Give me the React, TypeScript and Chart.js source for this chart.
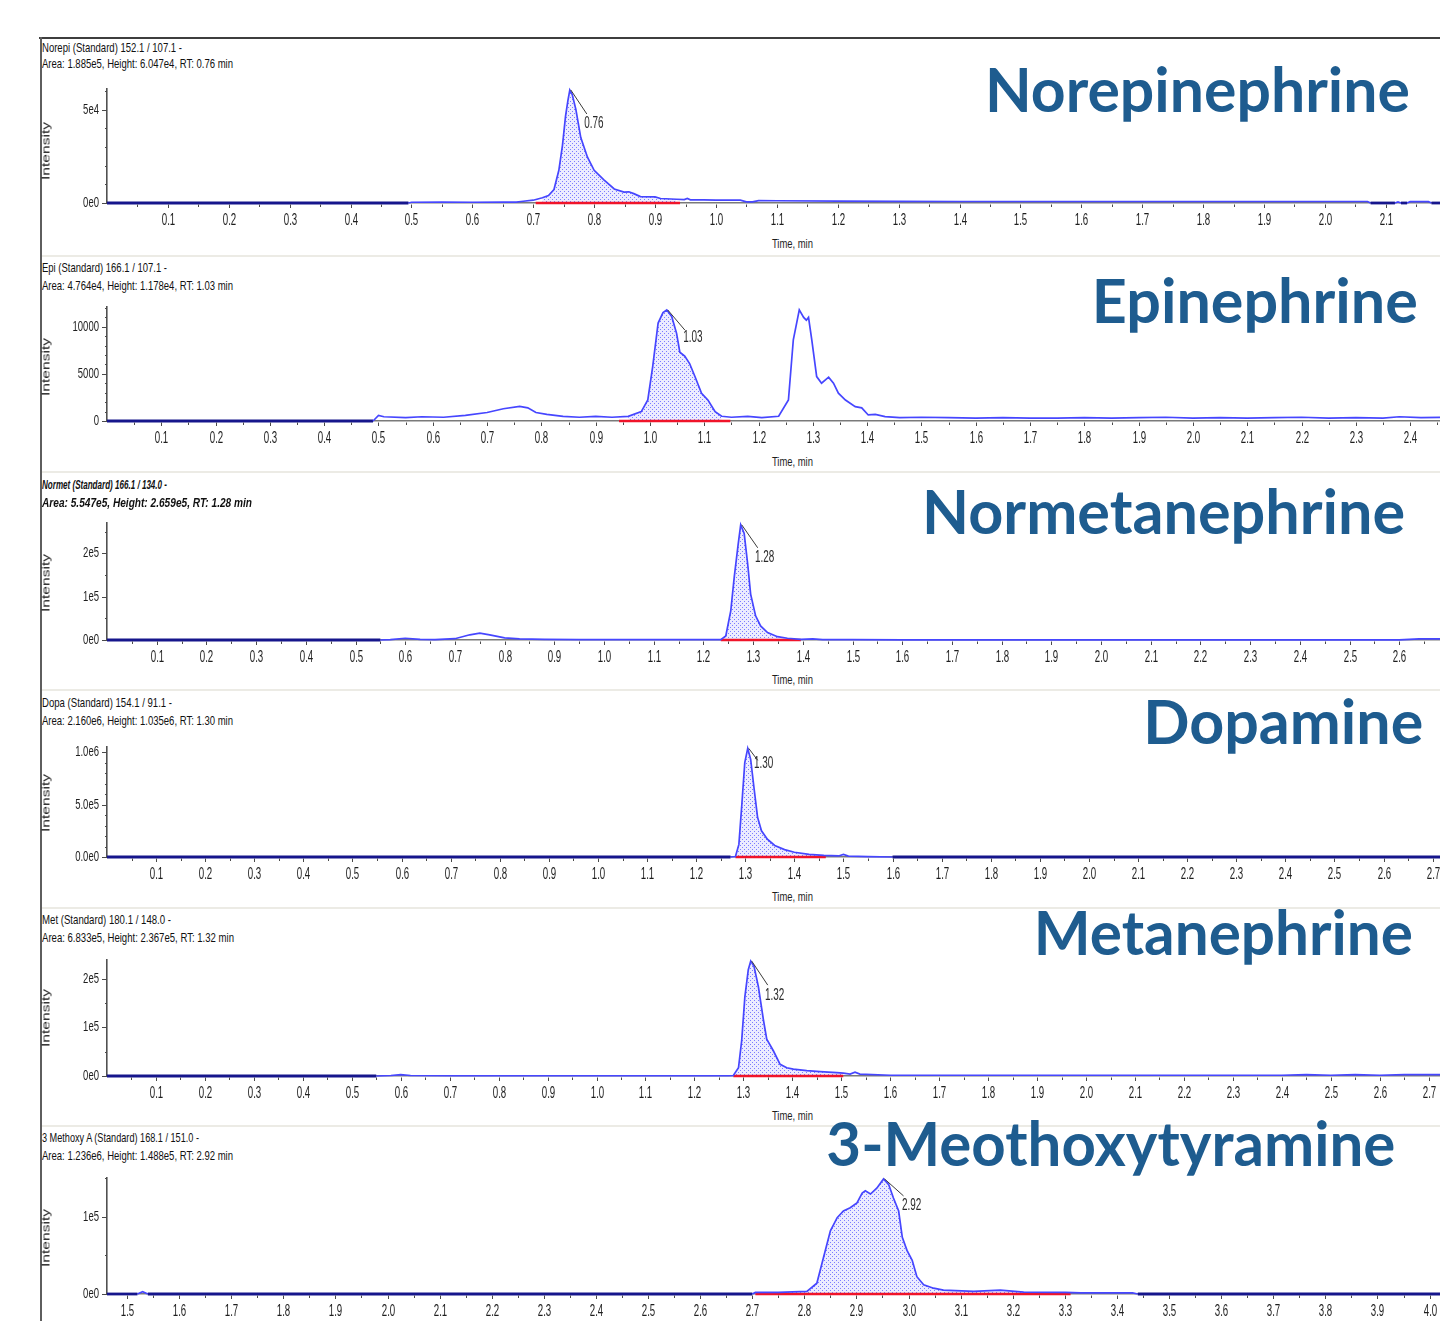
import React, { useEffect, useRef } from 'react';
import { Chart, registerables } from 'chart.js';
Chart.register(...registerables);

// ---------------- DATA ----------------
const norepiTime = [0, 0.3, 0.495, 0.5, 0.55, 0.6, 0.65, 0.672, 0.68, 0.7, 0.715, 0.725, 0.734, 0.742, 0.748, 0.753, 0.757, 0.76, 0.764, 0.77, 0.778, 0.789, 0.8, 0.816, 0.833, 0.849, 0.857, 0.865, 0.876, 0.9, 0.909, 0.935, 0.948, 0.953, 0.958, 0.98, 1.0, 1.04, 1.05, 1.06, 1.07, 1.1, 1.2, 1.3, 1.4, 1.5, 1.6, 1.7, 1.8, 1.9, 2.0, 2.07, 2.075, 2.115, 2.12, 2.125, 2.135, 2.14, 2.17, 2.175, 2.2];
const norepiIntensity = [0, 0, 0, 400, 450, 400, 450, 500, 800, 1500, 2800, 4000, 7200, 17500, 31000, 46500, 55000, 60470, 58000, 50000, 35000, 24500, 17500, 12400, 7500, 5800, 6000, 5000, 3400, 3300, 2400, 2000, 1800, 2400, 1700, 1700, 1500, 1500, 600, 600, 1300, 1200, 1000, 900, 800, 800, 800, 800, 800, 800, 800, 800, 0, 0, 600, 0, 0, 700, 700, 0, 0];

const epiTime = [0, 0.49, 0.5, 0.51, 0.55, 0.58, 0.62, 0.66, 0.7, 0.73, 0.76, 0.775, 0.79, 0.81, 0.84, 0.87, 0.9, 0.93, 0.96, 0.984, 0.996, 1.005, 1.015, 1.024, 1.031, 1.04, 1.049, 1.055, 1.064, 1.073, 1.083, 1.095, 1.107, 1.12, 1.132, 1.15, 1.18, 1.206, 1.237, 1.255, 1.264, 1.275, 1.283, 1.288, 1.292, 1.298, 1.307, 1.316, 1.329, 1.338, 1.347, 1.36, 1.378, 1.39, 1.402, 1.415, 1.433, 1.46, 1.5, 1.55, 1.6, 1.65, 1.7, 1.75, 1.8, 1.85, 1.9, 1.95, 2.0, 2.05, 2.1, 2.15, 2.2, 2.25, 2.3, 2.35, 2.38, 2.42, 2.46];
const epiIntensity = [0, 0, 600, 450, 350, 450, 400, 600, 900, 1300, 1550, 1400, 900, 700, 500, 400, 500, 400, 500, 990, 2230, 5780, 10400, 11500, 11780, 11100, 9300, 7300, 6900, 6100, 4700, 2950, 2200, 990, 500, 400, 500, 350, 500, 2230, 8620, 11800, 11000, 10700, 11000, 8620, 4710, 4010, 4650, 4010, 2950, 2230, 1520, 1400, 640, 700, 460, 350, 400, 350, 300, 350, 300, 300, 350, 300, 350, 400, 300, 350, 300, 350, 400, 300, 350, 300, 450, 350, 400];

const normetTime = [0, 0.55, 0.57, 0.6, 0.63, 0.66, 0.7, 0.73, 0.75, 0.77, 0.8, 0.83, 0.88, 0.95, 1.0, 1.1, 1.2, 1.235, 1.245, 1.255, 1.262, 1.27, 1.275, 1.282, 1.289, 1.295, 1.305, 1.315, 1.329, 1.349, 1.369, 1.396, 1.42, 1.44, 1.5, 1.6, 1.7, 1.8, 1.9, 2.0, 2.1, 2.2, 2.3, 2.4, 2.5, 2.6, 2.64, 2.69];
const normetIntensity = [0, 0, 1000, 4000, 1500, 1000, 3000, 12000, 16000, 12000, 5000, 2500, 1500, 1000, 800, 800, 700, 800, 9300, 67000, 145000, 222000, 265900, 246000, 176000, 106000, 55800, 32600, 17000, 7700, 4000, 1500, 2500, 1000, 800, 500, 500, 400, 500, 300, 400, 300, 300, 200, 300, 500, 2500, 2500];

const dopaTime = [0, 1.27, 1.28, 1.287, 1.293, 1.299, 1.305, 1.311, 1.318, 1.325, 1.333, 1.345, 1.36, 1.38, 1.4, 1.43, 1.46, 1.49, 1.5, 1.51, 1.55, 1.6, 2.72];
const dopaIntensity = [0, 0, 5000, 120000, 500000, 900000, 1035000, 930000, 650000, 380000, 250000, 170000, 110000, 70000, 45000, 25000, 15000, 10000, 25000, 8000, 3000, 0, 0];

const metTime = [0, 0.55, 0.58, 0.6, 0.62, 0.7, 1.0, 1.27, 1.2795, 1.29, 1.2965, 1.303, 1.31, 1.315, 1.3217, 1.3306, 1.341, 1.3477, 1.3612, 1.375, 1.3885, 1.402, 1.4294, 1.4566, 1.4907, 1.504, 1.518, 1.528, 1.538, 1.6, 1.8, 2.0, 2.2, 2.4, 2.45, 2.5, 2.55, 2.6, 2.65, 2.73];
const metIntensity = [0, 0, 1000, 3000, 1000, 500, 500, 500, 1000, 17000, 73000, 163000, 219000, 236700, 226000, 184000, 115000, 76000, 52000, 24000, 17000, 14000, 11000, 9000, 7000, 6000, 4000, 8000, 4000, 1500, 1500, 1500, 1500, 1500, 3000, 1500, 3000, 1500, 3000, 3000];

const mtTime = [1.46, 1.52, 1.53, 1.54, 2.7, 2.706, 2.75, 2.805, 2.824, 2.837, 2.85, 2.863, 2.875, 2.888, 2.901, 2.911, 2.917, 2.927, 2.939, 2.952, 2.962, 2.971, 2.981, 2.988, 2.997, 3.007, 3.016, 3.029, 3.048, 3.067, 3.125, 3.176, 3.221, 3.301, 3.33, 3.43, 3.44, 4.03];
const mtIntensity = [0, 0, 3000, 0, 0, 2000, 2000, 3300, 14000, 47800, 81800, 98700, 107300, 111500, 117800, 130500, 133600, 129300, 136900, 148800, 141200, 124200, 107300, 73300, 56400, 43600, 22400, 11800, 7500, 5000, 3500, 5000, 2500, 2000, 1500, 1500, 0, 0];

const integrationStart = [0.704, 0.943, 1.235, 1.28, 1.2795, 2.706];
const integrationEnd = [0.941, 1.148, 1.396, 1.464, 1.504, 3.311];
const rtLabels = ['0.76', '1.03', '1.28', '1.30', '1.32', '2.92'];

const compoundNames = ['Norepinephrine', 'Epinephrine', 'Normetanephrine', 'Dopamine', 'Metanephrine', '3-Meothoxytyramine'];
const headerLine1 = ['Norepi (Standard) 152.1 / 107.1 -', 'Epi (Standard) 166.1 / 107.1 -', 'Normet (Standard) 166.1 / 134.0 -', 'Dopa (Standard) 154.1 / 91.1 -', 'Met (Standard) 180.1 / 148.0 -', '3 Methoxy A (Standard) 168.1 / 151.0 -'];
const headerLine2 = ['Area: 1.885e5, Height: 6.047e4, RT: 0.76 min', 'Area: 4.764e4, Height: 1.178e4, RT: 1.03 min', 'Area: 5.547e5, Height: 2.659e5, RT: 1.28 min', 'Area: 2.160e6, Height: 1.035e6, RT: 1.30 min', 'Area: 6.833e5, Height: 2.367e5, RT: 1.32 min', 'Area: 1.236e6, Height: 1.488e5, RT: 2.92 min'];

const yTickValues = [[0, 50000], [0, 5000, 10000], [0, 100000, 200000], [0, 500000, 1000000], [0, 100000, 200000], [0, 100000]];
const yTickLabels = [['0e0', '5e4'], ['0', '5000', '10000'], ['0e0', '1e5', '2e5'], ['0.0e0', '5.0e5', '1.0e6'], ['0e0', '1e5', '2e5'], ['0e0', '1e5']];
const yMinorSteps = [10000, 1000, 50000, 100000, 50000, 50000];
const xRanges = [[0, 2.189], [0, 2.455], [0, 2.682], [0, 2.715], [0, 2.723], [1.4616, 4.02]];
const yMaxima = [61000, 12100, 270000, 1048000, 239000, 150000];

const traces = [
  [norepiTime, norepiIntensity],
  [epiTime, epiIntensity],
  [normetTime, normetIntensity],
  [dopaTime, dopaIntensity],
  [metTime, metIntensity],
  [mtTime, mtIntensity],
];

// ---------------- LAYOUT ----------------
const W = 1440;
const H = 1321;
const CANVAS_LEFT = 40;
const PLOT_LEFT = 107;
const PAD_TOP = 14;
const X_AXIS_H = 32;
const SANS = "'Liberation Sans', Arial, sans-serif";
const TITLE_FONT = "Lato, 'Open Sans', sans-serif";
const TITLE_COLOR = '#1e5c8f';
const BLUE = '#4646ff';
const NAVY = '#16168c';
const RED = '#f0142a';

const layout = [
  { top: 89, bottom: 203, h1: 51.5, h2: 67.5, w1: 140, w2: 191, tRight: 1410, tBase: 112, tW: 425, intY: 151, timeY: 247.5, line: [17, 24], text: [24, 34], bold: false },
  { top: 307, bottom: 421, h1: 271.5, h2: 289.5, w1: 125, w2: 191, tRight: 1418, tBase: 323, tW: 326, intY: 366.7, timeY: 465.5, line: [18, 20], text: [26, 28], bold: false },
  { top: 523, bottom: 640, h1: 488.5, h2: 506.5, w1: 125, w2: 210, tRight: 1405, tBase: 534, tW: 483, intY: 583, timeY: 683.5, line: [17, 23], text: [24, 33], bold: true },
  { top: 747, bottom: 857, h1: 706.5, h2: 724.5, w1: 130, w2: 191, tRight: 1423, tBase: 744, tW: 280, intY: 802.5, timeY: 900.5, line: [10, 12], text: [16, 15], bold: false },
  { top: 960, bottom: 1076, h1: 923.5, h2: 941.5, w1: 129, w2: 192, tRight: 1413, tBase: 955, tW: 379, intY: 1018, timeY: 1119.5, line: [17, 24], text: [24, 34], bold: false },
  { top: 1178, bottom: 1294, h1: 1141.5, h2: 1159.5, w1: 158, w2: 191, tRight: 1395, tBase: 1166, tW: 569, intY: 1237.5, timeY: 0, line: [20, 17], text: [28, 27], bold: false },
];
const separators = [255, 471, 689, 907, 1125];

// ---------------- HELPERS ----------------
const measureCtx = (() => {
  const c = document.createElement('canvas');
  return c.getContext('2d') as CanvasRenderingContext2D;
})();

function measure(text: string, font: string) {
  measureCtx.font = font;
  const m = measureCtx.measureText(text);
  const a = (m as any).fontBoundingBoxAscent ?? 10;
  const d = (m as any).fontBoundingBoxDescent ?? 3;
  return { w: m.width, a, d };
}

type FitProps = {
  text: string; x: number; y: number; width?: number; size: number; family: string;
  weight?: number; italic?: boolean; color?: string; align?: 'left' | 'right' | 'center';
};

function FitText({ text, x, y, width, size, family, weight = 400, italic = false, color = '#000', align = 'left' }: FitProps) {
  const font = `${italic ? 'italic ' : ''}${weight} ${size}px ${family}`;
  const m = measure(text, font);
  const sx = width ? width / m.w : 1;
  const h = m.a + m.d;
  const st: React.CSSProperties = {
    position: 'absolute', top: y - m.a, height: h, lineHeight: `${h}px`, whiteSpace: 'nowrap',
    fontFamily: family, fontSize: size, fontWeight: weight, fontStyle: italic ? 'italic' : 'normal', color,
    transform: `scaleX(${sx})`,
  };
  if (align === 'left') { st.left = x; st.transformOrigin = 'left top'; }
  else if (align === 'right') { st.left = x - m.w; st.transformOrigin = 'right top'; }
  else { st.left = x - m.w / 2; st.transformOrigin = 'center top'; }
  return <div style={st}>{text}</div>;
}

function RotText({ text, cx, cy, length, size }: { text: string; cx: number; cy: number; length: number; size: number }) {
  const font = `400 ${size}px ${SANS}`;
  const m = measure(text, font);
  const sx = length / m.w;
  return (
    <div style={{
      position: 'absolute', left: cx, top: cy, whiteSpace: 'nowrap', fontFamily: SANS, fontSize: size,
      lineHeight: `${size + 2}px`, color: '#222',
      transform: `translate(-50%, -50%) rotate(-90deg) scaleX(${sx})`,
    }}>{text}</div>
  );
}

function squeezed(ctx: CanvasRenderingContext2D, text: string, x: number, y: number, sx: number, align: 'center' | 'right') {
  ctx.save();
  ctx.translate(x, y);
  ctx.scale(sx, 1);
  ctx.textAlign = align;
  ctx.textBaseline = 'middle';
  ctx.fillText(text, 0, 0);
  ctx.restore();
}

function makePattern(ctx: CanvasRenderingContext2D) {
  const c = document.createElement('canvas');
  c.width = 4; c.height = 4;
  const p = c.getContext('2d') as CanvasRenderingContext2D;
  p.fillStyle = '#ececff';
  p.fillRect(0, 0, 4, 4);
  p.fillStyle = '#7c7cff';
  p.fillRect(0, 0, 1, 1);
  p.fillRect(2, 2, 1, 1);
  return ctx.createPattern(c, 'repeat');
}

const CLIP = { left: 0, top: 6, right: 6, bottom: 6 };

function Panel({ idx }: { idx: number }) {
  const ref = useRef<HTMLCanvasElement>(null);
  const L = layout[idx];
  const canvasTop = L.top - PAD_TOP;
  const canvasH = L.bottom - L.top + PAD_TOP + X_AXIS_H;
  useEffect(() => {
    const canvas = ref.current as HTMLCanvasElement;
    const ctx = canvas.getContext('2d') as CanvasRenderingContext2D;
    const [times, vals] = traces[idx];
    const pts = times.map((t, i) => ({ x: t, y: vals[i] }));
    const a = integrationStart[idx];
    const b = integrationEnd[idx];
    const fillPts = pts.filter((p) => p.x >= a && p.x <= b);
    const pattern = makePattern(ctx);
    const [xMin, xMax] = xRanges[idx];

    const decor = {
      id: 'decor' + idx,
      afterDraw(chart: any) {
        const c = chart.ctx as CanvasRenderingContext2D;
        const xs = chart.scales.x;
        const ys = chart.scales.y;
        c.save();
        c.strokeStyle = '#4a4a4a';
        c.lineWidth = 1;
        c.fillStyle = '#1e1e1e';
        // x ticks
        const step = 0.05;
        const i0 = Math.ceil(xMin / step - 1e-6);
        const i1 = Math.floor(xMax / step + 1e-6);
        c.font = `400 17px ${SANS}`;
        for (let i = i0; i <= i1; i++) {
          const v = i * step;
          if (v < xMin + 0.01) continue;
          const px = Math.round(xs.getPixelForValue(v)) + 0.5;
          const major = i % 2 === 0;
          c.beginPath();
          c.moveTo(px, ys.bottom + 1.5);
          c.lineTo(px, ys.bottom + (major ? 5 : 4));
          c.stroke();
          if (major) squeezed(c, v.toFixed(1), px, ys.bottom + 17, 0.57, 'center');
        }
        // y minor ticks
        const ms = yMinorSteps[idx];
        for (let v = 0; v <= ys.max + 1e-6; v += ms) {
          const py = Math.round(ys.getPixelForValue(v)) + 0.5;
          c.beginPath();
          c.moveTo(xs.left - 2, py);
          c.lineTo(xs.left, py);
          c.stroke();
        }
        // y major ticks + labels
        c.font = `400 14px ${SANS}`;
        yTickValues[idx].forEach((v, k) => {
          const py = Math.round(ys.getPixelForValue(v)) + 0.5;
          c.beginPath();
          c.moveTo(xs.left - 5, py);
          c.lineTo(xs.left, py);
          c.stroke();
          squeezed(c, yTickLabels[idx][k], xs.left - 8, py, 0.68, 'right');
        });
        // peak label
        let apex = fillPts[0];
        fillPts.forEach((p) => { if (p.y > apex.y) apex = p; });
        const ax = xs.getPixelForValue(apex.x);
        const ay = ys.getPixelForValue(apex.y);
        c.strokeStyle = '#3a3a3a';
        c.beginPath();
        c.moveTo(ax + 1, ay);
        c.lineTo(ax + L.line[0], ay + L.line[1]);
        c.stroke();
        c.font = `400 16px ${SANS}`;
        c.fillStyle = '#2a2a2a';
        squeezed(c, rtLabels[idx], ax + L.text[0], ay + L.text[1], 0.62, 'center');
        c.restore();
      },
    };

    const chart = new Chart(ctx, {
      type: 'line',
      data: {
        datasets: [
          {
            data: pts, borderColor: BLUE, borderWidth: 1.7, pointRadius: 0, fill: false, order: 1, clip: CLIP,
            segment: {
              borderColor: (s: any) => (s.p0.parsed.y === 0 && s.p1.parsed.y === 0 ? NAVY : BLUE),
              borderWidth: (s: any) => (s.p0.parsed.y === 0 && s.p1.parsed.y === 0 ? 2.8 : 1.7),
            },
          } as any,
          { data: [{ x: a, y: 0 }, { x: b, y: 0 }], borderColor: RED, borderWidth: 2.6, pointRadius: 0, fill: false, order: 2, clip: CLIP } as any,
          { data: fillPts, borderWidth: 0, pointRadius: 0, fill: 'origin', backgroundColor: pattern as any, order: 3 },
        ],
      },
      options: {
        animation: false,
        responsive: false,
        maintainAspectRatio: false,
        events: [],
        layout: { padding: { top: PAD_TOP, left: 0, right: 0, bottom: 0 } },
        plugins: { legend: { display: false }, tooltip: { enabled: false } },
        scales: {
          x: {
            type: 'linear', min: xMin, max: xMax,
            grid: { display: true, drawOnChartArea: false, drawTicks: false },
            border: { display: true, color: '#7a7a7a', width: 1.6 },
            ticks: { display: false },
            afterFit: (s: any) => { s.height = X_AXIS_H; },
          },
          y: {
            type: 'linear', min: 0, max: yMaxima[idx],
            grid: { display: true, drawOnChartArea: false, drawTicks: false },
            border: { display: true, color: '#505050', width: 1.6 },
            ticks: { display: false },
            afterFit: (s: any) => { s.width = PLOT_LEFT - CANVAS_LEFT; },
          },
        },
      },
      plugins: [decor],
    });
    return () => chart.destroy();
  }, [idx]);

  return (
    <canvas ref={ref} width={W - CANVAS_LEFT} height={canvasH}
      style={{ position: 'absolute', left: CANVAS_LEFT, top: canvasTop, width: W - CANVAS_LEFT, height: canvasH }} />
  );
}

export default function App() {
  return (
    <div style={{ position: 'absolute', left: 0, top: 0, width: W, height: H, background: '#fff', overflow: 'hidden' }}>
      <div style={{ position: 'absolute', left: 39, top: 37, width: W - 39, height: 1.6, background: '#3e3e3e' }} />
      <div style={{ position: 'absolute', left: 39.5, top: 37, width: 2, height: H - 37, background: '#5e5e5e' }} />
      {separators.map((y) => (
        <div key={y} style={{ position: 'absolute', left: 41.5, top: y, width: W - 41.5, height: 2, background: '#ecebe5' }} />
      ))}
      {layout.map((L, i) => (
        <React.Fragment key={i}>
          <Panel idx={i} />
          <FitText text={headerLine1[i]} x={42} y={L.h1} width={L.w1} size={13} family={SANS}
            weight={L.bold ? 700 : 400} italic={L.bold} color="#111" />
          <FitText text={headerLine2[i]} x={42} y={L.h2} width={L.w2} size={13} family={SANS}
            weight={L.bold ? 700 : 400} italic={L.bold} color="#111" />
          <RotText text="Intensity" cx={45.7} cy={L.intY} length={58} size={11} />
          {L.timeY > 0 && (
            <FitText text="Time, min" x={792} y={L.timeY} width={41} size={13.5} family={SANS} color="#1e1e1e" align="center" />
          )}
          <FitText text={compoundNames[i]} x={L.tRight} y={L.tBase} width={L.tW} size={61} family={TITLE_FONT}
            weight={700} color={TITLE_COLOR} align="right" />
        </React.Fragment>
      ))}
    </div>
  );
}
